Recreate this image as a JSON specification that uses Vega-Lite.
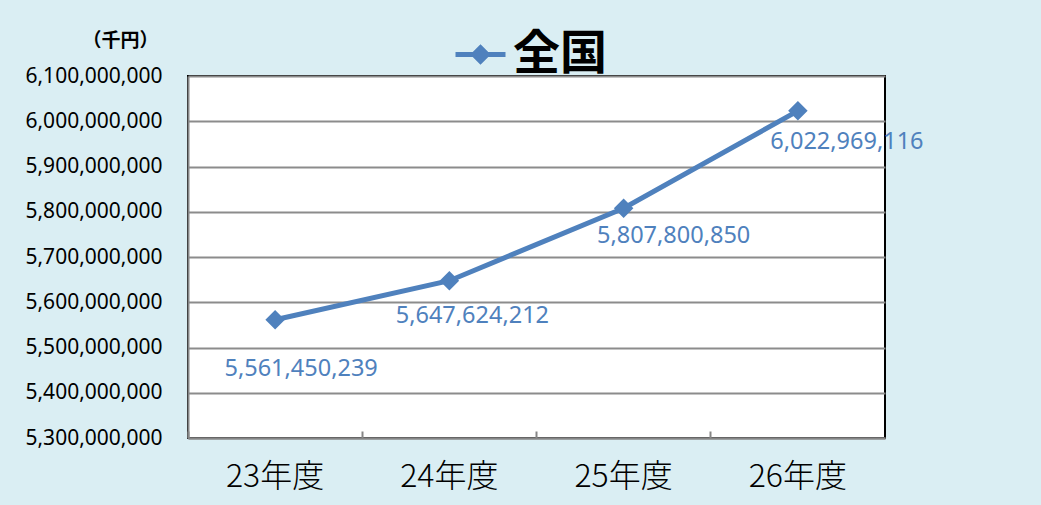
{
  "$schema": "https://vega.github.io/schema/vega-lite/v6.json",
  "width": 697,
  "height": 362,
  "autosize": {"type": "none"},
  "padding": {"left": 188, "top": 76, "right": 156, "bottom": 67},
  "background": "#DAEEF3",
  "config": {
    "view": {"fill": "white", "stroke": "black", "strokeWidth": 2},
    "font": "Noto Sans",
    "axisY": {"labelFontSize": 21}
  },
  "data": {
    "values": [
      {"year": "23年度", "value": 5561450239},
      {"year": "24年度", "value": 5647624212},
      {"year": "25年度", "value": 5807800850},
      {"year": "26年度", "value": 6022969116}
    ]
  },
  "encoding": {
    "x": {
      "field": "year",
      "type": "nominal",
      "sort": null,
      "scale": {"type": "band", "paddingInner": 0, "paddingOuter": 0},
      "axis": {
        "title": null,
        "labelAngle": 0,
        "labelFont": "Noto Sans CJK JP",
        "labelFontSize": 32,
        "labelFontWeight": 300,
        "labelColor": "black",
        "labelPadding": 30,
        "bandPosition": 0,
        "ticks": true,
        "tickSize": -7,
        "tickColor": "#868686",
        "tickWidth": 2,
        "domainColor": "#868686",
        "domainWidth": 2,
        "grid": false
      }
    },
    "y": {
      "field": "value",
      "type": "quantitative",
      "scale": {"domain": [5300000000, 6100000000], "zero": false, "nice": false},
      "axis": {
        "values": [5300000000, 5400000000, 5500000000, 5600000000, 5700000000, 5800000000, 5900000000, 6000000000, 6100000000],
        "labelExpr": "format(datum.value, ',')",
        "labelFontSize": 21,
        "labelColor": "black",
        "labelFont": "Noto Sans",
        "ticks": false,
        "labelPadding": 26,
        "domainColor": "#868686",
        "domainWidth": 2,
        "grid": true,
        "gridColor": "#8C8C8C",
        "gridWidth": 2,
        "title": "（千円）",
        "titleAngle": 0,
        "titleX": -68,
        "titleY": -36,
        "titleAlign": "center",
        "titleBaseline": "middle",
        "titleFont": "Noto Sans CJK JP",
        "titleFontSize": 19,
        "titleFontWeight": "bold",
        "titleColor": "black"
      }
    }
  },
  "layer": [
    {
      "mark": {"type": "line", "strokeWidth": 5},
      "encoding": {
        "color": {
          "datum": "全国",
          "scale": {"range": ["#4F81BD"]},
          "legend": {
            "title": null,
            "orient": "none",
            "legendX": 265,
            "legendY": -49,
            "labelFont": "Noto Sans CJK JP",
            "labelFontSize": 47,
            "labelFontWeight": "bold",
            "labelColor": "black",
            "labelOffset": 5,
            "symbolType": "M-1,0L1,0M0,-0.27L0.27,0L0,0.27L-0.27,0Z",
            "symbolSize": 2500,
            "symbolStrokeWidth": 5,
            "symbolFillColor": "#4F81BD",
            "symbolStrokeColor": "#4F81BD"
          }
        }
      }
    },
    {
      "mark": {"type": "point", "shape": "diamond", "filled": true, "size": 380, "opacity": 1, "color": "#4F81BD"}
    },
    {
      "transform": [{"filter": "datum.year == '23年度'"}],
      "mark": {"type": "text", "dx": 26, "dy": 49, "fontSize": 23.5, "color": "#4F81BD", "font": "Noto Sans"},
      "encoding": {"text": {"field": "value", "type": "quantitative", "format": ","}}
    },
    {
      "transform": [{"filter": "datum.year == '24年度'"}],
      "mark": {"type": "text", "dx": 23, "dy": 35, "fontSize": 23.5, "color": "#4F81BD", "font": "Noto Sans"},
      "encoding": {"text": {"field": "value", "type": "quantitative", "format": ","}}
    },
    {
      "transform": [{"filter": "datum.year == '25年度'"}],
      "mark": {"type": "text", "dx": 50, "dy": 28, "fontSize": 23.5, "color": "#4F81BD", "font": "Noto Sans"},
      "encoding": {"text": {"field": "value", "type": "quantitative", "format": ","}}
    },
    {
      "transform": [{"filter": "datum.year == '26年度'"}],
      "mark": {"type": "text", "dx": 49, "dy": 31, "fontSize": 23.5, "color": "#4F81BD", "font": "Noto Sans"},
      "encoding": {"text": {"field": "value", "type": "quantitative", "format": ","}}
    }
  ]
}
